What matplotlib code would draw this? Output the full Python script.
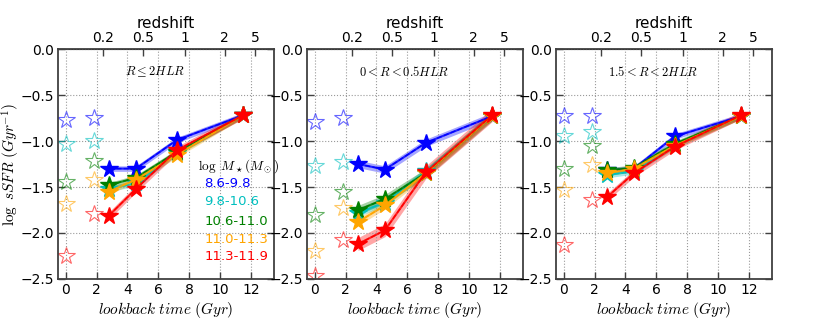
import matplotlib
matplotlib.use("Agg")
import matplotlib.pyplot as plt
import numpy as np

plt.rcParams['mathtext.fontset'] = 'cm'
plt.rcParams['font.family'] = ['DejaVu Sans']

# lookback times (Gyr)
t_local = [0.0, 1.8]
t_high = [2.8, 4.55, 7.2, 11.5]

# redshift ticks on top axis, placed at their lookback time
z_labels = ['0.2', '0.5', '1', '2', '5']
z_tlook = [2.43, 5.02, 7.72, 10.3, 12.3]

mass_bins = ['8.6-9.8', '9.8-10.6', '10.6-11.0', '11.0-11.3', '11.3-11.9']
colors = ['blue', 'c', 'green', 'orange', 'red']

titles = [r'$R \leq 2HLR$', r'$0<R<0.5HLR$', r'$1.5<R<2HLR$']

# open stars (local galaxies), per panel, per mass bin: [t=0, t=1.8]
local_p1 = [[-0.77, -0.75], [-1.03, -1.00], [-1.45, -1.22], [-1.68, -1.42], [-2.25, -1.79]]
local_p2 = [[-0.79, -0.75], [-1.27, -1.23], [-1.80, -1.55], [-2.20, -1.73], [-2.47, -2.08]]
local_p3 = [[-0.73, -0.73], [-0.95, -0.90], [-1.30, -1.05], [-1.53, -1.26], [-2.13, -1.64]]

# filled stars (from fossil record), per mass bin, at t_high
ssfr_p1 = [[-1.30, -1.30, -0.99, -0.72],
           [-1.52, -1.46, -1.13, -0.72],
           [-1.48, -1.40, -1.12, -0.72],
           [-1.55, -1.42, -1.15, -0.72],
           [-1.81, -1.52, -1.10, -0.72]]
ssfr_p2 = [[-1.25, -1.31, -1.02, -0.73],
           [-1.78, -1.67, -1.33, -0.73],
           [-1.75, -1.63, -1.35, -0.73],
           [-1.88, -1.70, -1.35, -0.73],
           [-2.12, -1.97, -1.34, -0.72]]
ssfr_p3 = [[-1.32, -1.30, -0.95, -0.73],
           [-1.37, -1.33, -1.05, -0.73],
           [-1.32, -1.29, -1.03, -0.73],
           [-1.35, -1.30, -1.05, -0.73],
           [-1.61, -1.35, -1.06, -0.72]]
err_p1 = [0.03, 0.03, 0.03, 0.03, 0.04]
err_p2 = [0.04, 0.04, 0.05, 0.04, 0.07]
err_p3 = [0.03, 0.03, 0.03, 0.03, 0.04]

locals_ = [local_p1, local_p2, local_p3]
ssfrs = [ssfr_p1, ssfr_p2, ssfr_p3]
errs = [err_p1, err_p2, err_p3]

fig = plt.figure(figsize=(8.3, 3.29), dpi=100)
lefts = [0.070, 0.370, 0.670]
spine_col = '#404040'

for k in range(3):
    ax = fig.add_axes([lefts[k], 0.152, 0.260, 0.699])
    for i in range(5):
        c = colors[i]
        y = np.array(ssfrs[k][i])
        e = errs[k][i]
        ax.fill_between(t_high, y - e, y + e, color=c, alpha=0.35, lw=0)
        ax.plot(t_high, y, '-', color=c, lw=1.5, alpha=0.8)
        ax.plot(t_high, y, '--', color=c, lw=1.0)
        ax.plot(t_high, y, '*', color=c, ms=13, mec=c)
        ax.plot(t_local, locals_[k][i], '*', mfc='none', mec=c, ms=13,
                mew=0.8, alpha=0.6)
    ax.set_xlim(-0.5, 13.5)
    ax.set_ylim(-2.5, 0.0)
    ax.set_xticks(np.arange(0, 13, 2))
    ax.set_yticks(np.arange(-2.5, 0.01, 0.5))
    ax.grid(True, ls=':', color='#999999', lw=0.8)
    ax.tick_params(direction='in', top=False, right=True, labelsize=10,
                   length=5, width=1, color=spine_col, pad=3)
    for s in ax.spines.values():
        s.set_linewidth(1.3)
        s.set_color(spine_col)
    ax.set_xlabel(r'$lookback\ time\ (Gyr)$', fontsize=11, labelpad=2)
    ax.text(0.45, 0.9, titles[k], transform=ax.transAxes, ha='center',
            va='center', fontsize=9)

    top = ax.secondary_xaxis('top')
    top.set_xticks(z_tlook)
    top.set_xticklabels(z_labels)
    top.tick_params(direction='in', labelsize=10, length=5, width=1,
                    color=spine_col, pad=3)
    top.set_xlabel('redshift', fontsize=11, labelpad=2)

    if k == 0:
        ax.set_ylabel(r'$\log\ sSFR\ (Gyr^{-1})$', fontsize=11)
        ax.yaxis.set_label_coords(-0.165, 0.5)
        ax.text(8.6, -1.27, r'$\log\ M_\star(M_\odot)$', fontsize=9.5,
                va='center')
        ys = [-1.46, -1.66, -1.87, -2.07, -2.26]
        for i in range(5):
            ax.text(9.0, ys[i], mass_bins[i], color=colors[i], fontsize=9.5,
                    va='center')

fig.savefig('out.png', dpi=100)
